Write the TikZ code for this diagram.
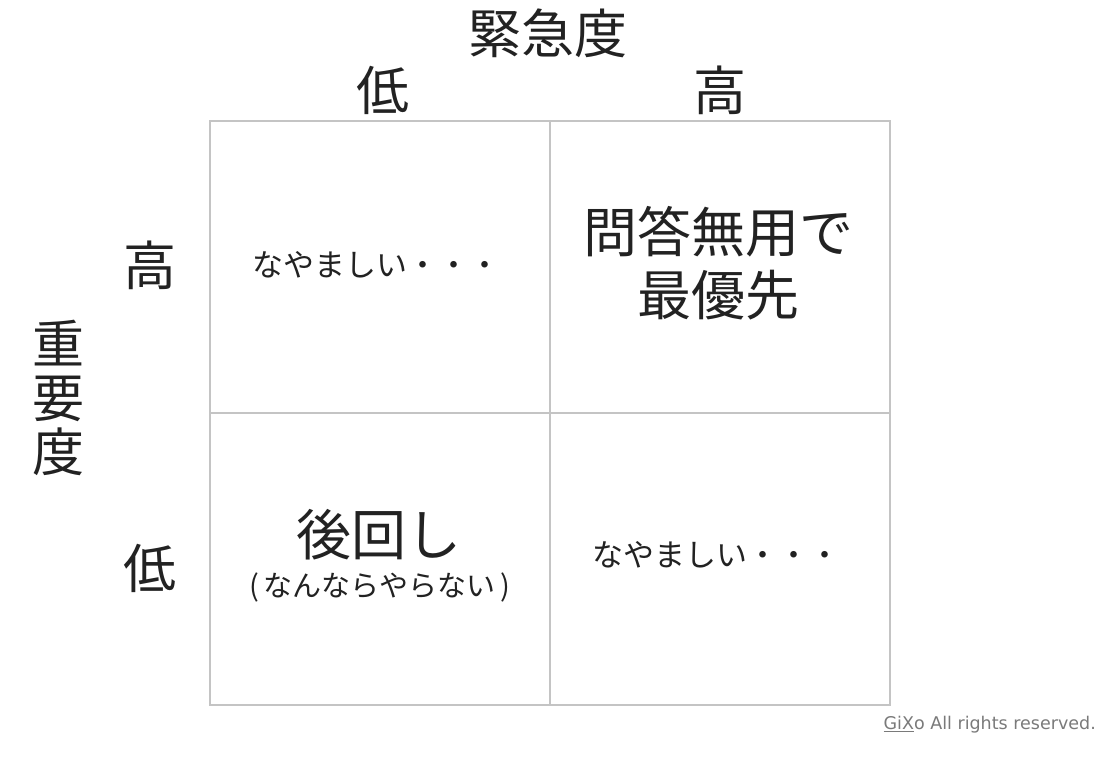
\documentclass[tikz,border=0pt]{standalone}
\usepackage{fontspec}
\setmainfont{Noto Sans CJK JP}
\newfontfamily\footfont{DejaVu Sans}
\definecolor{gridgray}{HTML}{C4C4C4}
\definecolor{txt}{HTML}{222222}
\definecolor{foot}{HTML}{7A7A7A}
\begin{document}
\begin{tikzpicture}[x=1pt,y=-1pt,
  lbl/.style={text=txt,inner sep=0pt,align=center},
  big/.style={lbl,font=\fontsize{53}{58}\selectfont},
  mid/.style={lbl,font=\fontsize{31}{36}\selectfont},
  cell/.style={draw=gridgray,line width=1.5pt,minimum width=340pt,minimum height=292pt,inner sep=0pt}]
\useasboundingbox[fill=white] (0,0) rectangle (1116,774);
\node[cell] (tl) at (380,267) {};
\node[cell] (tr) at (720,267) {};
\node[cell] (bl) at (380,559) {};
\node[cell] (br) at (720,559) {};
\node[big] (urg) at (548,33) {緊急度};
\node[big] (ulow) at (383,90) {低};
\node[big] (uhigh) at (720,90) {高};
\node[big] (ihigh) at (150,265) {高};
\node[big] (ilow) at (150,568) {低};
\node[big,font=\fontsize{52}{54}\selectfont] (imp) at (58,398) {重\\要\\度};
\node[mid] (tlt) at (376,265) {なやましい・・・};
\node[mid] (brt) at (716,555) {なやましい・・・};
\node[big,font=\fontsize{54}{63}\selectfont] (trt) at (718,263) {問答無用で\\最優先};
\node[big,font=\fontsize{55}{60}\selectfont] (blt) at (379,535) {後回し};
\node[mid,font=\fontsize{29}{32}\selectfont] (blsub) at (380,587) {(\,なんならやらない\,)};
\node[lbl,text=foot,anchor=east,font=\footfont\fontsize{17.5}{20}\selectfont] (cr) at (1096,725) {\underline{GiX}o All rights reserved.};
\end{tikzpicture}
\end{document}
